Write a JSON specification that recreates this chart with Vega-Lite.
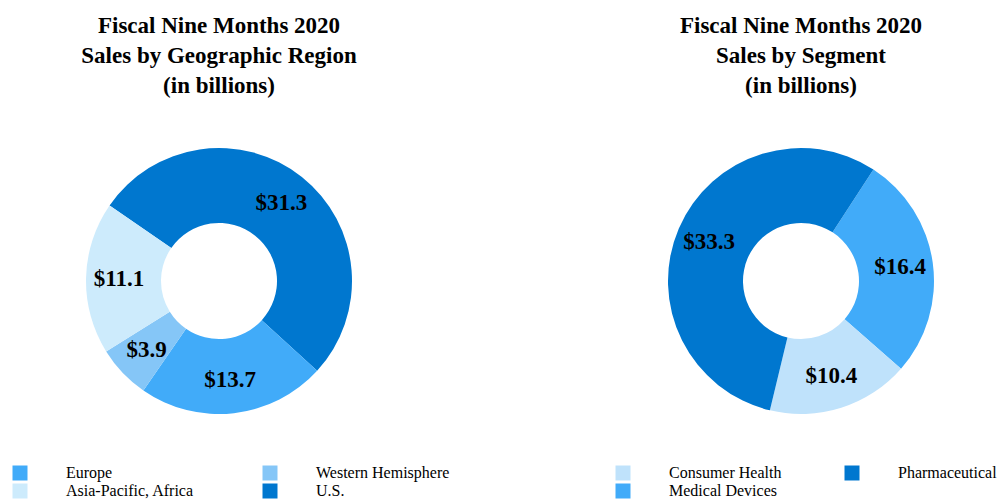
{
  "$schema": "https://vega.github.io/schema/vega-lite/v6.json",
  "padding": {"left": 0, "top": 15, "right": 0, "bottom": 0},
  "background": "white",
  "spacing": 163,
  "bounds": "flush",
  "config": {
    "view": {"stroke": null},
    "font": "Liberation Serif",
    "title": {"font": "Liberation Serif", "fontSize": 23, "fontWeight": "bold", "color": "#000000", "lineHeight": 30, "anchor": "middle", "offset": 33},
    "legend": {"labelFont": "Liberation Serif", "labelFontSize": 16, "labelColor": "#000000", "symbolType": "square", "symbolSize": 225, "symbolStrokeWidth": 0, "symbolOpacity": 1, "labelOffset": 38, "rowPadding": 2, "columnPadding": 68, "columns": 2, "padding": 0, "orient": "none", "title": null}
  },
  "datasets": {
    "region": [
      {"region": "U.S.", "sales": 31.3, "label": "$31.3", "rank": 1},
      {"region": "Europe", "sales": 13.7, "label": "$13.7", "rank": 2},
      {"region": "Western Hemisphere", "sales": 3.9, "label": "$3.9", "rank": 3},
      {"region": "Asia-Pacific, Africa", "sales": 11.1, "label": "$11.1", "rank": 4}
    ],
    "segment": [
      {"segment": "Medical Devices", "sales": 16.4, "label": "$16.4", "rank": 1},
      {"segment": "Consumer Health", "sales": 10.4, "label": "$10.4", "rank": 2},
      {"segment": "Pharmaceutical", "sales": 33.3, "label": "$33.3", "rank": 3}
    ]
  },
  "hconcat": [
    {
      "width": 438,
      "height": 300,
      "title": {"text": ["Fiscal Nine Months 2020", "Sales by Geographic Region", "(in billions)"]},
      "data": {"name": "region"},
      "encoding": {
        "theta": {"field": "sales", "type": "quantitative", "stack": true, "scale": {"range": [-0.966, 5.317]}},
        "order": {"field": "rank", "type": "quantitative"}
      },
      "layer": [
        {
          "mark": {"type": "arc", "outerRadius": 133, "innerRadius": 58},
          "encoding": {
            "color": {
              "field": "region", "type": "nominal",
              "scale": {"domain": ["Europe", "Asia-Pacific, Africa", "Western Hemisphere", "U.S."], "range": ["#41abf9", "#cdebfc", "#85c6f7", "#0077cf"]},
              "legend": {"legendX": 12, "legendY": 334, "columnPadding": 68}
            }
          }
        },
        {
          "mark": {"type": "text", "radius": 100, "font": "Liberation Serif", "fontSize": 23, "fontWeight": "bold", "color": "#000000"},
          "encoding": {"text": {"field": "label", "type": "nominal"}}
        }
      ]
    },
    {
      "width": 400,
      "height": 300,
      "title": {"text": ["Fiscal Nine Months 2020", "Sales by Segment", "(in billions)"]},
      "data": {"name": "segment"},
      "encoding": {
        "theta": {"field": "sales", "type": "quantitative", "stack": true, "scale": {"range": [0.576, 6.859]}},
        "order": {"field": "rank", "type": "quantitative"}
      },
      "layer": [
        {
          "mark": {"type": "arc", "outerRadius": 133, "innerRadius": 58},
          "encoding": {
            "color": {
              "field": "segment", "type": "nominal",
              "scale": {"domain": ["Consumer Health", "Medical Devices", "Pharmaceutical"], "range": ["#bfe2fb", "#41abf9", "#0077cf"]},
              "legend": {"legendX": 14, "legendY": 334, "columnPadding": 62}
            }
          }
        },
        {
          "mark": {"type": "text", "radius": 100, "font": "Liberation Serif", "fontSize": 23, "fontWeight": "bold", "color": "#000000"},
          "encoding": {"text": {"field": "label", "type": "nominal"}}
        }
      ]
    }
  ],
  "resolve": {"scale": {"color": "independent", "theta": "independent"}}
}
